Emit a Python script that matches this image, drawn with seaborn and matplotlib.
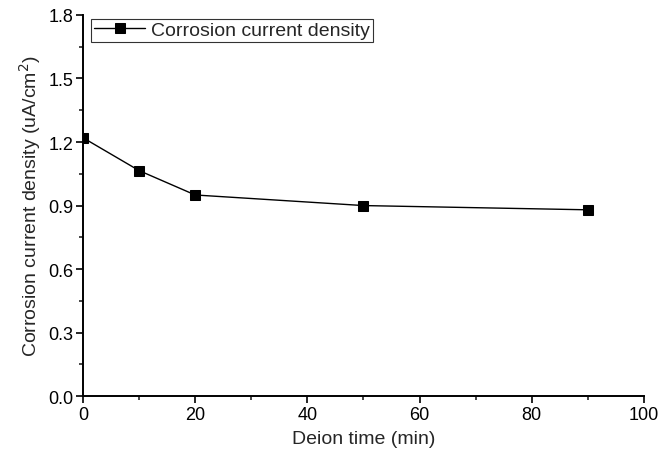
import matplotlib
matplotlib.use('Agg')
import matplotlib.pyplot as plt
from matplotlib.ticker import MultipleLocator
import seaborn as sns
import pandas as pd

# data
deion_time = [0, 10, 20, 50, 90]
current_density = [1.22, 1.065, 0.95, 0.90, 0.88]

sns.set_style('ticks')
plt.rcParams['font.family'] = ['Liberation Sans', 'DejaVu Sans']

df = pd.DataFrame({'time': deion_time, 'density': current_density})

fig = plt.figure(figsize=(6.7, 4.56), dpi=100)
ax = fig.add_axes([0.124, 0.129, 0.837, 0.836])

sns.lineplot(data=df, x='time', y='density', ax=ax, color='black', linewidth=1,
             marker='s', markersize=7, markeredgecolor='black',
             label='Corrosion current density')

ax.set_xlim(0, 100)
ax.set_ylim(0, 1.8)
ax.xaxis.set_major_locator(MultipleLocator(20))
ax.xaxis.set_minor_locator(MultipleLocator(10))
ax.yaxis.set_major_locator(MultipleLocator(0.3))
ax.yaxis.set_minor_locator(MultipleLocator(0.15))
ax.yaxis.set_major_formatter(plt.FormatStrFormatter('%.1f'))

ax.tick_params(axis='both', which='major', direction='out', length=5, width=1.2, labelsize=13, colors='black', pad=2)
ax.tick_params(axis='both', which='minor', direction='out', length=3, width=1.2)
for s in ['top', 'right']:
    ax.spines[s].set_visible(False)
for s in ['left', 'bottom']:
    ax.spines[s].set_linewidth(1.4)
    ax.spines[s].set_color('black')

ax.set_xlabel('Deion time (min)', fontsize=14, labelpad=5)
ax.set_ylabel('Corrosion current density (uA/cm$^2$)', fontsize=14, labelpad=4)

leg = ax.legend(loc='upper left', bbox_to_anchor=(0.015, 0.99), fontsize=14,
                frameon=True, fancybox=False, edgecolor='black', handlelength=2.6,
                borderpad=0.15, handletextpad=0.3, borderaxespad=0)
leg.get_frame().set_linewidth(0.8)

fig.savefig('out.png', dpi=100)
